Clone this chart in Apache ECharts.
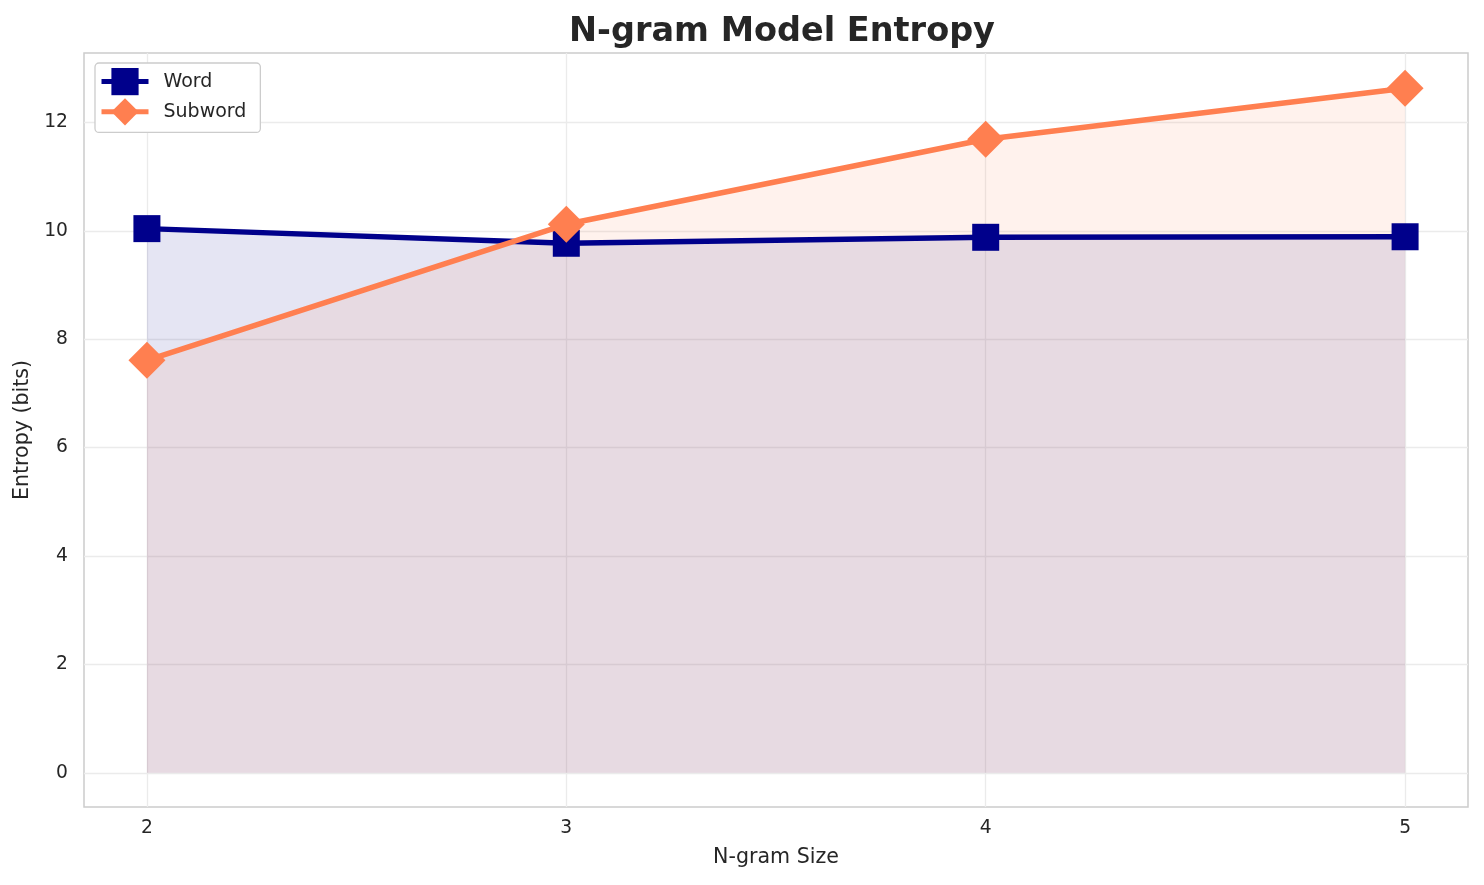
<!DOCTYPE html>
<html>
<head>
<meta charset="utf-8">
<script src="https://cdn.jsdelivr.net/npm/echarts@6/dist/echarts.min.js"></script>
<style>html,body{margin:0;padding:0;background:#fff}#c{width:1484px;height:885px}</style>
</head>
<body>
<div id="c"></div>
<script>
const nGramSizes = [2, 3, 4, 5];
const wordEntropy = [10.04, 9.77, 9.88, 9.89];
const subwordEntropy = [7.61, 10.12, 11.69, 12.63];
const xTicks = [2, 3, 4, 5];
const yTicks = [0, 2, 4, 6, 8, 10, 12];

const wordPts = nGramSizes.map((x, i) => [x, wordEntropy[i]]);
const subPts = nGramSizes.map((x, i) => [x, subwordEntropy[i]]);
const font = 'DejaVu Sans';

const chart = echarts.init(document.getElementById('c'));
chart.setOption({
  animation: false,
  backgroundColor: '#ffffff',
  title: {
    text: 'N-gram Model Entropy',
    left: 777, top: 10, textAlign: 'center',
    textStyle: { fontFamily: font, fontSize: 33.5, fontWeight: 'bold', color: '#262626' }
  },
  legend: {
    left: 95, top: 63,
    orient: 'vertical',
    data: ['Word', 'Subword'],
    itemWidth: 47, itemHeight: 34, itemGap: 3,
    padding: [5, 14, 7, 4],
    borderColor: '#cccccc', borderWidth: 1.3, borderRadius: 4,
    backgroundColor: '#ffffff',
    lineStyle: { width: 5 },
    textStyle: { fontFamily: font, fontSize: 19, color: '#262626', padding: [0, 0, 0, 10] }
  },
  grid: { left: 84, top: 53, right: 16, bottom: 78, show: true, borderColor: '#cccccc', borderWidth: 1.5, backgroundColor: 'transparent' },
  xAxis: {
    type: 'value', min: 1.85, max: 5.15,
    name: 'N-gram Size', nameLocation: 'middle', nameGap: 40,
    nameTextStyle: { fontFamily: font, fontSize: 20.6, color: '#262626' },
    axisLine: { show: false },
    axisTick: { show: false, customValues: xTicks },
    axisLabel: { customValues: xTicks, fontFamily: font, fontSize: 18.7, color: '#262626', margin: 12 },
    splitLine: { show: true, lineStyle: { color: '#ebebeb', width: 1.3 } }
  },
  yAxis: {
    type: 'value', min: -0.63, max: 13.28,
    name: 'Entropy (bits)', nameLocation: 'middle', nameGap: 51,
    nameTextStyle: { fontFamily: font, fontSize: 20.6, color: '#262626' },
    axisLine: { show: false },
    axisTick: { show: false, customValues: yTicks },
    axisLabel: { customValues: yTicks, fontFamily: font, fontSize: 18.7, color: '#262626', margin: 16 },
    splitLine: { show: true, lineStyle: { color: '#ebebeb', width: 1.3 } }
  },
  series: [
    {
      name: 'WordFill', type: 'line', data: wordPts, z: 1, silent: true,
      showSymbol: false, symbol: 'none',
      lineStyle: { width: 0 },
      areaStyle: { origin: 0, color: 'rgba(0,0,139,0.1)', opacity: 1 }
    },
    {
      name: 'SubwordFill', type: 'line', data: subPts, z: 1, silent: true,
      showSymbol: false, symbol: 'none',
      lineStyle: { width: 0 },
      areaStyle: { origin: 0, color: 'rgba(255,127,80,0.1)', opacity: 1 }
    },
    {
      name: 'Word', type: 'line', data: wordPts, z: 3,
      symbol: 'rect', symbolSize: 27,
      itemStyle: { color: '#00008B' },
      lineStyle: { color: '#00008B', width: 5.5 }
    },
    {
      name: 'Subword', type: 'line', data: subPts, z: 4,
      symbol: 'diamond', symbolSize: 37,
      itemStyle: { color: '#FF7F50' },
      lineStyle: { color: '#FF7F50', width: 5.5 }
    }
  ]
});
</script>
</body>
</html>
